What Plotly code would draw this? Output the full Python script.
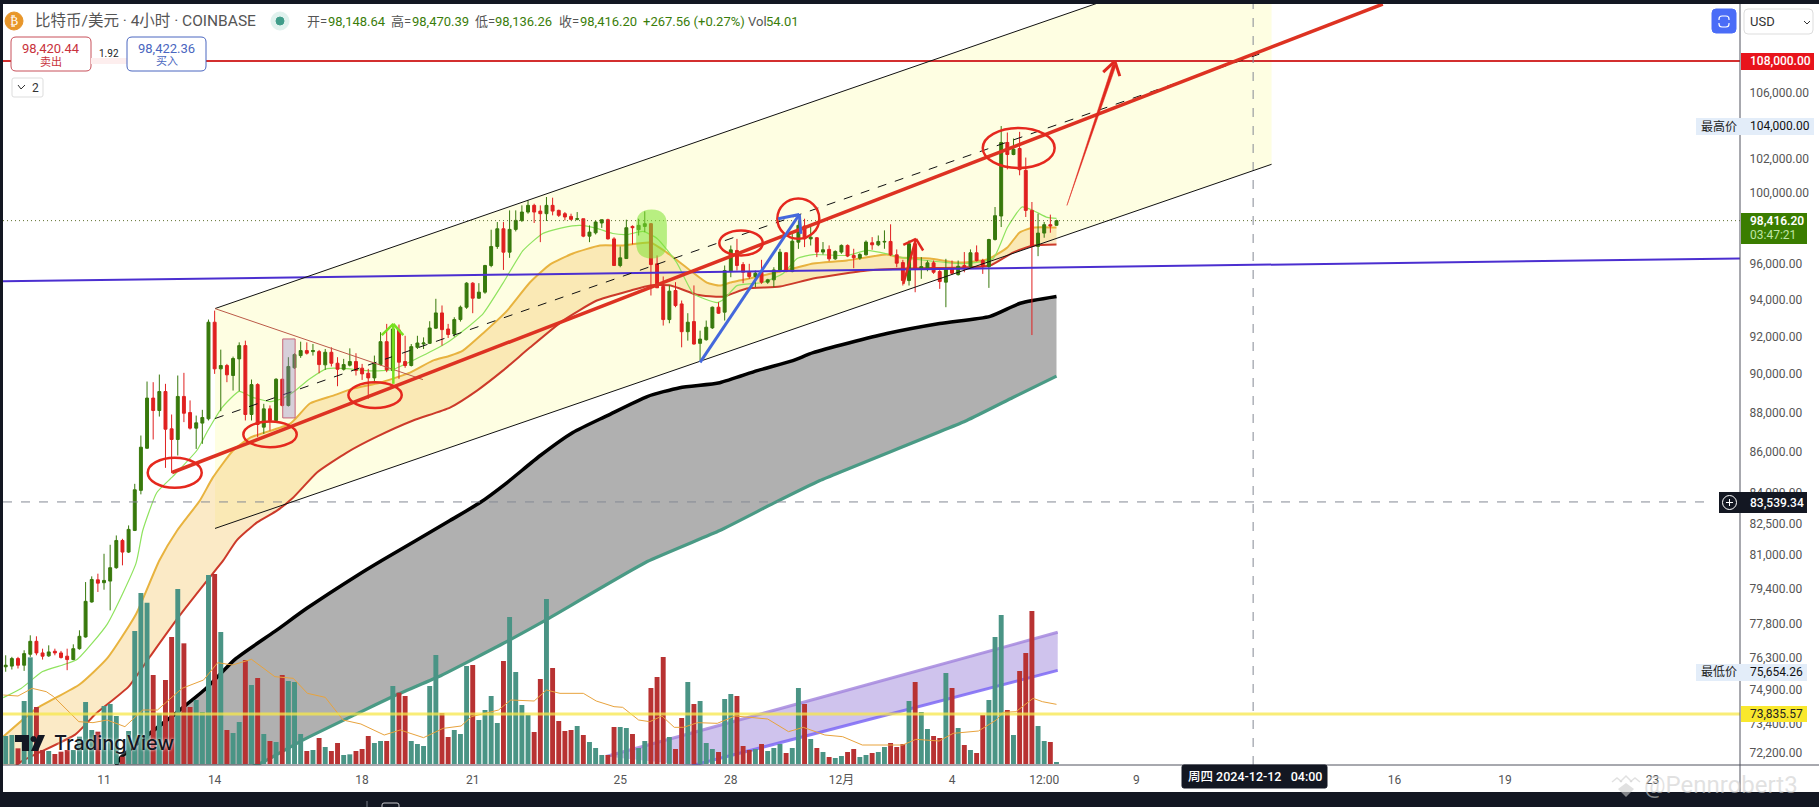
import math
import plotly.graph_objects as go

# ---------- candles, bar index 0 = 11 Nov 00:00, 4h bars ----------
bars = list(range(-16, 156))
opens = [75890,75920,76255,75960,76447,77025,76505,76375,76580,76505,76360,76210,76695,77220,78810,79835,
 79700,79775,80400,81685,81135,82165,84105,86195,88750,88110,
 89090,87175,86635,88835,88005,87210,87465,87685,92760,90275,
 90450,89925,90800,91505,87905,89450,87260,88195,87600,89730,
 88370,90330,90975,91240,91185,91185,90485,91150,90570,90255,
 90465,90660,90310,90045,89800,90500,91715,90185,92340,90660,
 90450,91415,91590,91625,92440,93265,92395,92125,92905,93575,
 94895,94070,94400,95875,96945,97950,96625,97915,98430,98910,
 99295,98965,98815,99295,99005,98815,98660,98490,98525,97530,
 97720,98280,98470,97375,95875,96265,98085,97895,98085,98240,
 95970,94715,92905,94490,93755,92250,92795,91625,91820,92455,
 93575,93305,95540,96720,95930,95500,95265,95500,94950,95080,
 95595,96590,95540,97190,98105,97375,97440,96630,96780,96250,
 96630,97005,96440,96290,96475,97155,97040,97195,97230,96475,
 96040,95040,97100,95725,95745,96025,95540,94950,95685,95370,
 95875,95835,96590,96155,95815,97340,98680,103000,102280,102640,
 101340,99005,96950,97705,98185,98148.64]
highs = [76400,76330,76330,76625,77295,77250,76695,76845,76695,76595,76695,76890,77520,79730,79995,80120,
 81055,81480,81925,81765,82405,84425,86835,89610,89575,89975,
 89490,87905,89925,90065,88630,87850,88145,92905,93390,91290,
 90535,90920,91680,91770,89715,89520,88455,88370,89785,89750,
 90890,91100,91715,91680,91590,91275,91325,91415,90890,90800,
 91360,91100,90535,90275,90975,92225,92670,92580,92635,92030,
 91590,92030,91945,92815,94035,93670,92670,93030,93665,94950,
 94950,94895,95915,97895,98335,98335,99005,99005,99295,99585,
 99390,99295,99780,99740,99045,98910,98815,98910,98525,98145,
 98430,98470,98525,97470,96945,98470,98145,98525,98950,98280,
 96440,95265,94770,94950,93940,93250,94770,92305,92850,93610,
 93850,95875,97000,97375,96065,95970,95595,96195,95135,95780,
 96810,96625,97760,98430,98525,98050,97480,97195,97005,96725,
 97060,97060,96815,96570,97290,97475,97570,97860,98205,96780,
 96195,97290,97290,96345,96155,96155,95685,96250,96155,96155,
 96630,96780,97005,96250,97380,99200,103990,103600,103235,103640,
 102100,99490,98815,98340,98760,98470.39]
lows = [75670,75770,75815,75710,76330,76400,76210,76330,76400,76255,75740,76180,76650,77190,78780,79270,
 79375,78425,80350,80510,81090,82135,83910,86160,86635,87800,
 85215,84955,85830,87515,87140,86160,86415,87600,90010,88075,
 89575,89140,89110,87600,87600,86750,86920,87090,87515,88315,
 88315,90275,90855,91030,90975,90045,90220,90400,89365,90185,
 90400,89925,89695,88715,89625,90450,90100,90150,89750,90330,
 90400,91325,91325,91590,92395,91505,91915,91980,92795,93485,
 93250,94035,94310,95780,96810,95630,96305,97800,98335,98815,
 98280,97190,98395,98720,98625,98430,98430,98430,97470,97190,
 97625,98000,97340,95875,95780,96245,97060,97565,97760,94215,
 94640,92580,92705,93575,91415,91770,91555,90705,91770,92400,
 93215,92850,95225,95595,94895,95135,94675,94860,94860,94675,
 95500,95500,95500,96810,96910,97000,96345,96495,96120,96195,
 96535,96345,95725,96195,96440,96760,96965,96815,96405,95780,
 94765,94765,94395,95135,95555,95410,94580,93575,95370,95315,
 95500,95740,96100,95410,94635,97280,98050,101400,102240,101050,
 98625,92070,96400,97440,97725,98136.26]
closes = [75960,76255,75960,76475,77025,76505,76360,76550,76505,76300,76210,76695,77250,78840,79850,79680,
 79806,80400,81685,81135,82215,84135,86245,88750,88110,89090,
 87155,86635,88835,87970,87210,87480,87750,92760,90275,90450,
 89960,90820,91505,87905,89450,87395,88195,87600,89730,88370,
 90400,91030,91240,91100,91240,90500,91150,90570,90255,90500,
 90660,90185,90010,89800,90535,91715,90220,92395,90625,90450,
 91450,91645,91645,92450,93265,92360,92100,92905,93575,94895,
 94070,94400,95875,96945,97950,96625,97915,98430,98910,99295,
 98910,98815,99295,98965,98720,98625,98490,98525,97530,97760,
 98335,98470,97375,95875,96305,98010,98010,98145,98240,95930,
 94640,92905,94455,93665,92250,92760,91590,91855,92490,93575,
 93250,95595,96755,95875,95500,95265,95450,94950,95080,95630,
 96625,95540,97245,98145,97375,97470,96630,96760,96250,96665,
 97005,96405,96310,96495,97195,97040,97230,97230,96475,96005,
 95040,97100,95725,95815,96025,95500,94985,95685,95445,95835,
 95685,96590,96155,95815,97340,98700,103000,102280,102600,101380,
 99005,96950,97705,98185,98110,98416.20]
volumes = [840,870,470,1890,3200,1710,420,390,300,370,420,420,820,1860,1020,970,
 1740,1800,1440,220,990,3990,5130,4840,2670,1520,
 2520,3810,5250,3620,1710,1920,1560,5670,5700,3960,
 1020,930,1260,3120,2370,2580,900,690,660,2670,
 2490,2460,900,390,420,780,510,390,630,270,
 290,390,450,840,630,690,690,2340,2140,2040,
 690,600,540,2340,3270,1530,810,1020,900,2940,
 2970,1320,1620,2040,1230,3090,4410,2760,1770,1470,
 960,2550,4950,2880,1290,990,1020,1140,870,660,
 480,270,270,1110,1110,1080,900,480,690,2280,
 2610,3210,810,450,1380,2460,1800,1890,630,450,
 360,1950,2100,2040,540,420,450,600,390,480,
 600,330,480,2280,1800,750,480,360,210,180,
 240,360,450,210,270,330,360,510,630,510,
 600,1890,2460,1560,1050,840,780,2730,2280,1080,
 570,420,330,1470,1920,3810,4470,1620,870,2790,
 3330,4590,1140,690,660,54.01]

# ---------- moving averages (bar, price) ----------
ema_fast_x = [-16.4,-13.5,-10,-6.5,-4.4,0.5,5.2,6.3,8.6,11.2,15.1,16.9,19.2,22,24.2,27,29.1,30.8,33.5,36.3,39.5,42.8,45.2,47,50.9,53.5,56.3,58.5,61.7,64.9,68.2,71.4,74.7,77.5,80.2,82.8,85.1,87.7,90,93.2,95.9,99.8,101,103,107.2,110.5,112.8,115.4,120.9,124.2,127.9,130,137.2,140.4,144.7,147,149.4,151.2,153.5,155]
ema_fast_y = [74540,74940,75680,75990,76210,77790,80600,82160,84000,84790,86080,87090,88260,89100,88790,88570,88730,89060,89760,90290,90290,90180,90180,90240,90820,91240,91770,92310,93230,94880,96720,97680,98020,98140,97970,97680,97620,97800,97400,96040,94320,93830,94050,94760,94930,95430,96270,96490,96440,96720,96490,96320,96040,95990,96270,98020,99200,99000,98600,98540]
ema_mid_x = [-16.4,-11,-4,0.5,5.2,9,11.9,15.6,17.7,21,23.8,30.3,33.5,37.3,40.5,44.9,49.8,53.5,56.3,58.4,61.7,65.6,69.3,72.6,76.3,80.7,84.5,88.9,91.6,95.4,98.1,100.2,101.9,107.2,112.8,115.4,120.9,127.4,129.5,134.4,138.8,143.7,147,149,151.2,155]
ema_mid_y = [72860,74060,75110,76260,78250,80740,82160,83610,84730,86080,86730,87440,88470,88880,89240,89550,90080,90710,90970,91240,92170,93390,94930,95940,96550,97000,97000,97170,96600,95600,94930,94760,94930,95320,95770,95990,96160,96490,96320,96270,96040,96210,96890,97740,98020,98020]
ema_slow_x = [-16.4,-13.5,-4.7,-1.3,4,7.5,12.2,16.8,19.4,21.6,24.9,28.2,30.8,34.7,39.5,44.4,50.3,56.3,60.7,64.9,69.3,74.7,80.2,85.6,88.9,92.2,96.5,100.7,104.6,110,115.4,124.2,130.7,139.8,144.2,147.9,151.2,155]
ema_slow_y = [71190,71808,72950,73850,75020,76350,78150,79810,80740,81690,82550,83130,83760,85000,85980,86780,87600,88260,89140,90180,91400,92850,93940,94480,94770,94770,94260,94150,94600,94710,95150,95600,95710,95770,95880,96600,97000,97060]
ma_long_x = [1.3,2.6,11.6,16.4,21.5,27.8,33,41.2,45.2,56.3,61.2,65.6,71,76.3,81.9,88.4,93.7,100.2,106.3,112.1,115.4,127.4,136,144.2,149.1,155]
ma_long_y = [71190,71940,73850,74890,76260,77470,78520,80040,80740,82640,83510,84490,85830,86990,87850,88830,89290,89550,90180,90710,91130,92150,92690,93080,93790,94160]
ma_base_x = [20.2,26,32.5,41.2,47,54.5,66.2,72.1,88.4,100.2,108.9,116.5,140.4,147.9,155]
ma_base_y = [71190,71810,72740,73850,74590,75460,77110,78020,80690,82160,83470,84590,87600,88780,89890]
vol_ma_x = [-16.4,-14,-11.7,-9.4,-8.2,-4.1,-1.8,0.5,3.4,6.3,8.7,12.7,16.2,18.5,20.9,24,27.8,30.8,33.1,36,38.9,41.8,45.6,48.2,52,55.2,58.1,59.8,64.2,66.2,70,72,74.2,78,80.1,83,84.4,87,88.8,90.8,92.8,94.3,96.6,99.8,102.7,108,111.4,113.8,117.3,120.2,123.4,130,132.1,135.9,138.2,142.3,145.2,146.3,148.4,151.2,152.7,155]
vol_ma_y = [2070,2040,2270,2170,2020,1270,1240,1320,1120,1620,1620,2270,2520,3040,2970,3140,2620,2570,2120,2000,1320,1200,870,1020,790,1070,1140,1420,1620,1920,1890,2220,2120,2120,1890,1720,1700,1320,1270,1440,1100,1100,1240,1220,1440,1350,970,1100,870,820,570,570,740,690,920,990,1320,1550,1570,1970,1870,1790]

# ---------- hand-drawn objects (bar, price) ----------
channel_upper = [(18.06, 93500), (190, 115700)]
channel_mid = [(18.06, 87700), (188, 108440)]
channel_lower = [(18.06, 82260), (190, 101700)]
main_trend = [(11.07, 84985), (208.1, 111650)]
blue_level = [(-16.44, 95000), (266.23, 96270)]
wedge_line = [(18.06, 93500), (51.9, 89710)]
note_box = [(29.08, 87730), (31.1, 91860)]
blob = [(86.6, 96270), (91.6, 99060)]
rings = [[(7.11, 84230), (15.9, 85715)], [(22.67, 86245), (31.36, 87545)], [(39.76, 88245), (48.45, 89570)],
         [(100.13, 96437), (107.2, 97852)], [(109.57, 97380), (116.4, 99690)], [(143, 101480), (154.7, 103875)]]
green_arrow = [[(47.08, 89490), (47.08, 92670)], [(45.2, 92070), (47.08, 92670)], [(48.7, 92070), (47.08, 92670)]]
blue_arrow = [[(97, 90620), (113.15, 98770)], [(109.7, 98520), (113.15, 98770)], [(113.4, 97660), (113.15, 98770)]]
small_red_arrow = [[(130.07, 94860), (132.14, 97380)], [(130.07, 97040), (132.14, 97380)], [(133.3, 96718), (132.14, 97380)]]
big_arrow_tail = [(156.7, 99293), (164.15, 107800), (164.75, 107800)]
big_red_arrow = [[(162.6, 107310), (164.5, 108000)], [(165.3, 107060), (164.5, 108000)]]
vol_channel_upper = [(81.7, 72025), (155.2, 77430)]
vol_channel_lower = [(95.7, 71647), (155.2, 75733)]

# ---------- axis labels ----------
price_ticks = [106000,102000,100000,96000,94000,92000,90000,88000,86000,84000,82500,81000,79400,77800,76300,74900,73400,72200]
price_tick_text = [f"{v:,.2f}" for v in price_ticks]
time_ticks = [0,18,42,60,84,102,120,138,153,168,210,228,252]
time_tick_text = ["11","14","18","21","25","28","12月","4","12:00","9","16","19","23"]

FONT = "Roboto, 'Noto Sans CJK SC', sans-serif"
DARK = "#131722"
BULL, BEAR = "#38790c", "#e02020"
VUP, VDN = "#4a9485", "#b83232"
x_range = [-16.44, 266.23]
y_range = [math.log10(71670), math.log10(111654)]

W, H = 1819, 807
L, R, T, B = 3, 1740, 4, 765
def px(x): return (x - L) / (R - L)
def py(y): return (B - y) / (B - T)

fig = go.Figure()

# yellow channel
fig.add_trace(go.Scatter(
    x=[channel_upper[0][0], channel_upper[1][0], channel_lower[1][0], channel_lower[0][0]],
    y=[channel_upper[0][1], channel_upper[1][1], channel_lower[1][1], channel_lower[0][1]],
    fill="toself", fillcolor="#fefee2", mode="none"))
# volume-area purple channel
fig.add_trace(go.Scatter(x=[p[0] for p in vol_channel_upper], y=[p[1] for p in vol_channel_upper],
    mode="lines", line=dict(color="rgba(160,130,220,0.8)", width=3)))
fig.add_trace(go.Scatter(x=[p[0] for p in vol_channel_lower], y=[p[1] for p in vol_channel_lower],
    mode="lines", line=dict(color="rgba(125,105,245,0.85)", width=3), fill="tonexty", fillcolor="rgba(175,155,225,0.6)"))
# long averages
fig.add_trace(go.Scatter(x=ma_long_x, y=ma_long_y, mode="lines", line=dict(color="#000000", width=3.5, shape="spline", smoothing=0.6)))
fig.add_trace(go.Scatter(x=ma_base_x, y=ma_base_y, mode="lines", line=dict(color="#4a9a85", width=3.2, shape="spline", smoothing=0.4),
    fill="tonexty", fillcolor="#b0b0b0"))
# short averages
fig.add_trace(go.Scatter(x=ema_mid_x, y=ema_mid_y, mode="lines", line=dict(color="#e8b33f", width=2, shape="spline", smoothing=0.5)))
fig.add_trace(go.Scatter(x=ema_slow_x, y=ema_slow_y, mode="lines", line=dict(color="#cc3a2a", width=2, shape="spline", smoothing=0.5),
    fill="tonexty", fillcolor="rgba(245,205,120,0.42)"))
fig.add_trace(go.Scatter(x=ema_fast_x, y=ema_fast_y, mode="lines", line=dict(color="#8fe35f", width=1.2, shape="spline", smoothing=0.5)))

# volume
vol_colors = [VUP if c >= o else VDN for o, c in zip(opens, closes)]
fig.add_trace(go.Bar(x=bars, y=volumes, marker=dict(color=vol_colors, line=dict(width=0)), width=0.8, yaxis="y2"))
fig.add_trace(go.Scatter(x=vol_ma_x, y=vol_ma_y, mode="lines", line=dict(color="#e8a33d", width=1), yaxis="y2"))
# candles
fig.add_trace(go.Candlestick(x=bars, open=opens, high=highs, low=lows, close=closes, yaxis="y3",
    increasing=dict(line=dict(color=BULL, width=1), fillcolor=BULL),
    decreasing=dict(line=dict(color=BEAR, width=1), fillcolor=BEAR), whiskerwidth=0))

shapes, notes = [], []

def data_line(a, b, color, width, dash=None, opacity=1):
    shapes.append(dict(type="line", xref="x", yref="y", x0=a[0], y0=a[1], x1=b[0], y1=b[1], layer="above", opacity=opacity,
                       line=dict(color=color, width=width, dash=dash or "solid")))
def h_level(price, color, width, dash=None, opacity=1, end=1):
    shapes.append(dict(type="line", xref="paper", yref="y", x0=0, x1=end, y0=price, y1=price, layer="above", opacity=opacity,
                       line=dict(color=color, width=width, dash=dash or "solid")))
def chrome_rect(x0, y0, x1, y1, fill, line=None, lw=1):
    shapes.append(dict(type="rect", xref="paper", yref="paper", x0=px(x0), x1=px(x1), y0=py(y0), y1=py(y1), layer="above",
                       fillcolor=fill, line=dict(color=line or fill, width=lw if line else 0)))
def chrome_round(x0, y0, x1, y1, r, fill, line, lw=1):
    p = (f"M{px(x0+r)},{py(y0)} L{px(x1-r)},{py(y0)} Q{px(x1)},{py(y0)} {px(x1)},{py(y0+r)} "
         f"L{px(x1)},{py(y1-r)} Q{px(x1)},{py(y1)} {px(x1-r)},{py(y1)} L{px(x0+r)},{py(y1)} "
         f"Q{px(x0)},{py(y1)} {px(x0)},{py(y1-r)} L{px(x0)},{py(y0+r)} Q{px(x0)},{py(y0)} {px(x0+r)},{py(y0)} Z")
    shapes.append(dict(type="path", xref="paper", yref="paper", path=p, layer="above", fillcolor=fill,
                       line=dict(color=line, width=lw)))
def chrome_poly(points, fill=None, line=None, lw=1, close=False):
    p = "M" + " L".join(f"{px(x)},{py(y)}" for x, y in points) + (" Z" if close else "")
    shapes.append(dict(type="path", xref="paper", yref="paper", path=p, layer="above",
                       fillcolor=fill or "rgba(0,0,0,0)", line=dict(color=line or "rgba(0,0,0,0)", width=lw)))
def chrome_circle(cx, cy, r, fill, line=None, lw=1):
    shapes.append(dict(type="circle", xref="paper", yref="paper", x0=px(cx-r), x1=px(cx+r), y0=py(cy-r), y1=py(cy+r),
                       layer="above", fillcolor=fill, line=dict(color=line or fill, width=lw)))
def label(x, y, text, size=12, color="#555555", anchor="left", weight=None, family=FONT, **kw):
    f = dict(size=size, color=color, family=family)
    if weight: f["weight"] = weight
    if "shadow" in kw: f["shadow"] = kw.pop("shadow")
    notes.append(dict(xref="paper", yref="paper", x=px(x), y=py(y), text=text, showarrow=False, xanchor=anchor,
                      yanchor="middle", font=f, align=anchor, borderpad=0, **kw))

# horizontal levels
h_level(108000, "#d32f2f", 2)
h_level(98416.20, "#5f6f2e", 1, "1px,3px")
h_level(83539.34, "#858a95", 1, "dash", end=px(1713))
h_level(73835.57, "#f7e84a", 3, opacity=0.75)
data_line(blue_level[0], blue_level[1], "#4b2fd0", 2)
shapes.append(dict(type="line", xref="x", yref="paper", x0=187, x1=187, y0=0, y1=1, layer="above",
                   line=dict(color="#858a95", width=1, dash="dash")))
# channel lines
data_line(channel_upper[0], channel_upper[1], "#111111", 1)
data_line(channel_lower[0], channel_lower[1], "#111111", 1)
data_line(channel_mid[0], channel_mid[1], "#111111", 1, "dash")
data_line(wedge_line[0], wedge_line[1], "#bb5a48", 1)
# pink note box
shapes.append(dict(type="rect", xref="x", yref="y", x0=note_box[0][0], x1=note_box[1][0], y0=note_box[0][1], y1=note_box[1][1],
                   layer="above", fillcolor="rgba(140,120,200,0.35)", line=dict(color="#c86478", width=1)))
# green blob: rounded rectangle
bx0, bx1 = blob[0][0], blob[1][0]
by0, by1 = blob[0][1], blob[1][1]
rx = (bx1 - bx0) / 2
ry = (by1 - by0) * 0.32
shapes.append(dict(type="path", xref="x", yref="y", layer="above", fillcolor="rgba(125,225,50,0.55)", line=dict(width=0),
    path=(f"M{bx0},{by0+ry} Q{bx0},{by0} {bx0+rx},{by0} Q{bx1},{by0} {bx1},{by0+ry} "
          f"L{bx1},{by1-ry} Q{bx1},{by1} {bx1-rx},{by1} Q{bx0},{by1} {bx0},{by1-ry} Z")))
# main trend
data_line(main_trend[0], main_trend[1], "#dd3222", 3.5)
# rings
for r in rings:
    shapes.append(dict(type="circle", xref="x", yref="y", x0=r[0][0], x1=r[1][0], y0=r[0][1], y1=r[1][1], layer="above",
                       line=dict(color="#e5281e", width=2.5)))
for seg in green_arrow: data_line(seg[0], seg[1], "#78e020", 2.5)
for seg in blue_arrow: data_line(seg[0], seg[1], "#4468dc", 3)
for seg in small_red_arrow: data_line(seg[0], seg[1], "#e0281e", 2.5)
# tapered tail of the big arrow
shapes.append(dict(type="path", xref="x", yref="y", layer="above", fillcolor="#e0281e", line=dict(color="#e0281e", width=0.5),
    path="M" + " L".join(f"{b},{p}" for b, p in big_arrow_tail) + " Z"))
for seg in big_red_arrow: data_line(seg[0], seg[1], "#e0281e", 3)

# frame
chrome_rect(0, 0, W, 4, DARK)
chrome_rect(0, 0, 3, H, DARK)
chrome_rect(0, 792, W, H, DARK)
shapes.append(dict(type="line", xref="paper", yref="paper", x0=px(3), x1=px(W), y0=py(765), y1=py(765), layer="above", line=dict(color="#50535e", width=1)))
shapes.append(dict(type="line", xref="paper", yref="paper", x0=px(1740), x1=px(1740), y0=py(4), y1=py(792), layer="above", line=dict(color="#50535e", width=1)))

# header
chrome_circle(14, 21, 9, "#e8962a")
label(14, 21, "₿", 12, "#ffffff", "center", family="DejaVu Sans")
label(34, 21, "比特币/美元 · 4小时 · COINBASE", 15.5, "#555555")
chrome_circle(280, 21, 9, "#e0f2ee")
chrome_circle(280, 21, 4, "#3f9d8a")
GREEN_TXT = "#3a7d0a"
for x, t, c in [(306, "开=", "#555555"), (327, "98,148.64", GREEN_TXT), (390, "高=", "#555555"), (411, "98,470.39", GREEN_TXT),
                (474, "低=", "#555555"), (494, "98,136.26", GREEN_TXT), (558, "收=", "#555555"), (579, "98,416.20", GREEN_TXT),
                (642, "+267.56 (+0.27%)", GREEN_TXT), (747, "Vol", "#555555"), (765, "54.01", GREEN_TXT)]:
    label(x, 21, t, 13, c)
# bid / ask
chrome_round(11, 37, 91, 71, 5, "#ffffff", "#c8505a")
label(51, 48, "98,420.44", 13, "#c8323c", "center")
label(51, 62, "卖出", 11, "#c8323c", "center")
chrome_rect(91, 58, 127, 64, "#fdeeee")
label(109, 54, "1.92", 10, "#222222", "center")
chrome_round(127, 37, 206, 71, 5, "#ffffff", "#4a66c0")
label(166.5, 48, "98,422.36", 13, "#4a66c0", "center")
label(166.5, 62, "买入", 11, "#4a66c0", "center")
chrome_round(12, 78, 43, 97, 2, "#ffffff", "#dddddd")
chrome_poly([(18, 85), (21, 89), (25, 85)], line="#333333", lw=1)
label(35, 87.5, "2", 12, "#333333", "center")
# top-right controls
chrome_round(1712, 9, 1736, 33, 4, "#4a6cf7", "#4a6cf7")
chrome_round(1719, 16, 1729, 27, 3, "rgba(0,0,0,0)", "#ffffff", 1.2)
chrome_rect(1717, 20, 1731, 23, "#4a6cf7")
chrome_round(1744, 9, 1813, 34, 4, "#ffffff", "#dddddd")
label(1749, 22, "USD", 13, "#333333")
chrome_poly([(1804, 21), (1807, 24), (1810, 21)], line="#333333", lw=1)

# price tags
chrome_rect(1741, 53, 1814, 70, "#e8141c")
label(1749, 61, "108,000.00", 12, "#ffffff", weight=500)
chrome_rect(1696, 118, 1814, 135, "#e3edf9")
label(1700, 126, "最高价", 12, "#222222")
label(1749, 126, "104,000.00", 12, "#111111")
chrome_rect(1741, 213, 1807, 244, "#3a7d00")
label(1749, 221, "98,416.20", 12, "#ffffff", weight=600)
label(1749, 235, "03:47:21", 12, "#bfe5a6")
chrome_rect(1719, 492, 1807, 513, DARK)
chrome_circle(1729.5, 502.5, 7, "rgba(0,0,0,0)", "#ffffff", 1)
chrome_poly([(1726, 502.5), (1733, 502.5)], line="#ffffff", lw=1)
chrome_poly([(1729.5, 499), (1729.5, 506)], line="#ffffff", lw=1)
label(1749, 502.5, "83,539.34", 12, "#ffffff", weight=500)
chrome_rect(1696, 664, 1807, 681, "#e3edf9")
label(1700, 672, "最低价", 12, "#222222")
label(1749, 672, "75,654.26", 12, "#111111")
chrome_rect(1741, 706, 1807, 722, "#f9e82d")
label(1749, 713.5, "73,835.57", 12, "#222222")

# time tag
chrome_round(1182, 765, 1327, 788, 2, DARK, DARK)
label(1254.5, 777, "周四 2024-12-12&nbsp;&nbsp;&nbsp;04:00", 12.5, "#ffffff", "center", weight=500)

# bottom bits
shapes.append(dict(type="line", xref="paper", yref="paper", x0=px(367), x1=px(367), y0=py(801), y1=py(807), layer="above", line=dict(color="#777a85", width=1)))
chrome_round(382, 803, 399, 812, 2, "rgba(0,0,0,0)", "#c8c8cc", 1)

# TradingView logo
chrome_poly([(15, 735), (29, 735), (29, 751), (22, 751), (22, 742), (15, 742)], fill=DARK, close=True)
chrome_circle(33.5, 739, 2.6, DARK)
chrome_poly([(38, 735), (45, 735), (38, 751), (31, 751)], fill=DARK, close=True)
label(53, 743, "TradingView", 20, DARK, family="Inter, Roboto, sans-serif", weight=500, shadow="0px 0px 3px #ffffff")

# watermark
WM = "rgba(205,205,205,0.6)"
chrome_poly([(1612, 782), (1617, 778), (1622, 782)], line=WM, lw=1.5)
chrome_poly([(1620, 782), (1626, 776), (1632, 782)], line=WM, lw=1.5)
chrome_poly([(1630, 782), (1635, 778), (1640, 782)], line=WM, lw=1.5)
chrome_poly([(1618, 789), (1626, 797), (1634, 789), (1626, 783)], fill=WM, close=True)
label(1643, 785, "@Pennrobert3", 24, WM, family="Roboto, sans-serif")

fig.update_layout(
    width=W, height=H, autosize=False, showlegend=False, hovermode=False, boxgap=0.32,
    paper_bgcolor="#ffffff", plot_bgcolor="#ffffff", barmode="overlay",
    margin=dict(l=L, r=W - R, t=T, b=H - B, pad=0),
    font=dict(family=FONT),
    xaxis=dict(range=x_range, tickmode="array", tickvals=time_ticks, ticktext=time_tick_text, showgrid=False, zeroline=False,
               showline=False, ticks="outside", ticklen=4, tickcolor="rgba(0,0,0,0)", tickfont=dict(size=12, color="#555555"),
               rangeslider=dict(visible=False), tickangle=0),
    yaxis=dict(type="log", side="right", range=y_range, tickmode="array", tickvals=price_ticks, ticktext=price_tick_text, showgrid=False,
               zeroline=False, showline=False, ticks="outside", ticklen=6, tickcolor="rgba(0,0,0,0)", tickfont=dict(size=12, color="#555555")),
    yaxis2=dict(overlaying="y", side="right", range=[-30, 22800], visible=False, showgrid=False, zeroline=False),
    yaxis3=dict(overlaying="y", side="right", type="log", range=y_range, visible=False, showgrid=False, zeroline=False),
    shapes=shapes, annotations=notes,
)
fig.write_html("out.html", config=dict(displayModeBar=False),
               post_script="document.body.style.margin='0';document.body.style.overflow='hidden';")
